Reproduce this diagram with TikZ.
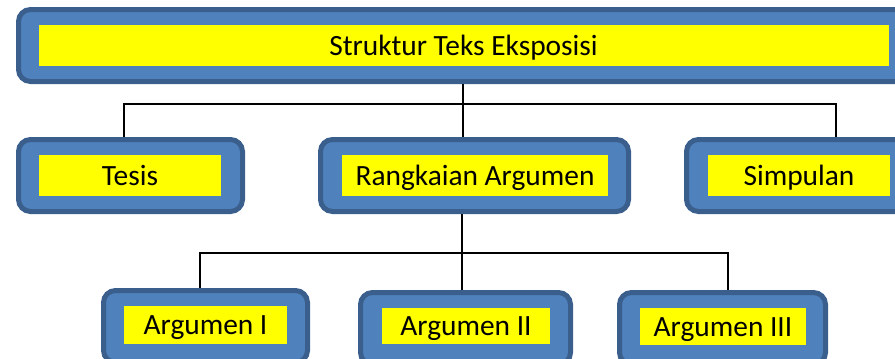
\documentclass[tikz,border=0pt]{standalone}
\usepackage{fontspec}
\setmainfont{Carlito}
\definecolor{boxblue}{HTML}{4F81BD}
\definecolor{boxedge}{HTML}{3A5F8D}
\definecolor{lbl}{HTML}{FFFF00}
\tikzset{
  outerbox/.style={draw=boxedge, fill=boxblue, line width=5pt, rounded corners=12pt,
    minimum height=72pt, inner sep=0pt},
  labelbox/.style={fill=lbl, inner sep=0pt, minimum height=41pt,
    text height=25pt, text depth=6pt,
    font=\fontsize{29.4}{34}\selectfont, text=black},
  conn/.style={draw=black, line width=1.3pt}
}
\begin{document}
\begin{tikzpicture}[x=1pt,y=-1pt]
\useasboundingbox (0,0) rectangle (895,359);
\clip (0,0) rectangle (895,359);
% outer boxes
\node[outerbox, minimum width=891pt] (topo) at (464,45.5) {};
\node[outerbox, minimum width=224pt] (tesiso) at (130.5,175.5) {};
\node[outerbox, minimum width=308pt] (rango) at (474.5,175.5) {};
\node[outerbox, minimum width=225pt] (simpo) at (799,175.5) {};
\node[outerbox, minimum width=204pt] (argao) at (205.5,326.5) {};
\node[outerbox, minimum width=210pt] (argbo) at (465.5,328.5) {};
\node[outerbox, minimum width=206pt] (argco) at (722.5,328.5) {};
% label boxes
\node[labelbox, minimum width=850pt] (top) at (464,45.5) {\hspace*{-1pt}Struktur Teks Eksposisi};
\node[labelbox, minimum width=182pt] (tesis) at (130,175.5) {Tesis};
\node[labelbox, minimum width=266pt] (rang) at (475,175.5) {Rangkaian Argumen};
\node[labelbox, minimum width=182pt] (simp) at (799,175.5) {Simpulan};
\node[labelbox, minimum width=163pt, minimum height=38pt] (arga) at (205.5,325) {Argumen I};
\node[labelbox, minimum width=168pt, minimum height=36pt] (argb) at (466,326) {Argumen II};
\node[labelbox, minimum width=166pt, minimum height=37pt] (argc) at (723,326.5) {Argumen III};
% connectors
\coordinate (j1) at (463,104);
\coordinate (j2) at (462,253);
\draw[conn] ([xshift=-1pt]topo.south) -- (j1);
\draw[conn] ([xshift=-6.5pt]tesiso.north) |- (j1) -| ([xshift=37pt]simpo.north);
\draw[conn] (j1) -- ([xshift=-11.5pt]rango.north);
\draw[conn] ([xshift=-12.5pt]rango.south) -- (j2);
\draw[conn] ([xshift=-5.5pt]argao.north) |- (j2) -| ([xshift=5.5pt]argco.north);
\draw[conn] (j2) -- ([xshift=-3.5pt]argbo.north);
\end{tikzpicture}
\end{document}
